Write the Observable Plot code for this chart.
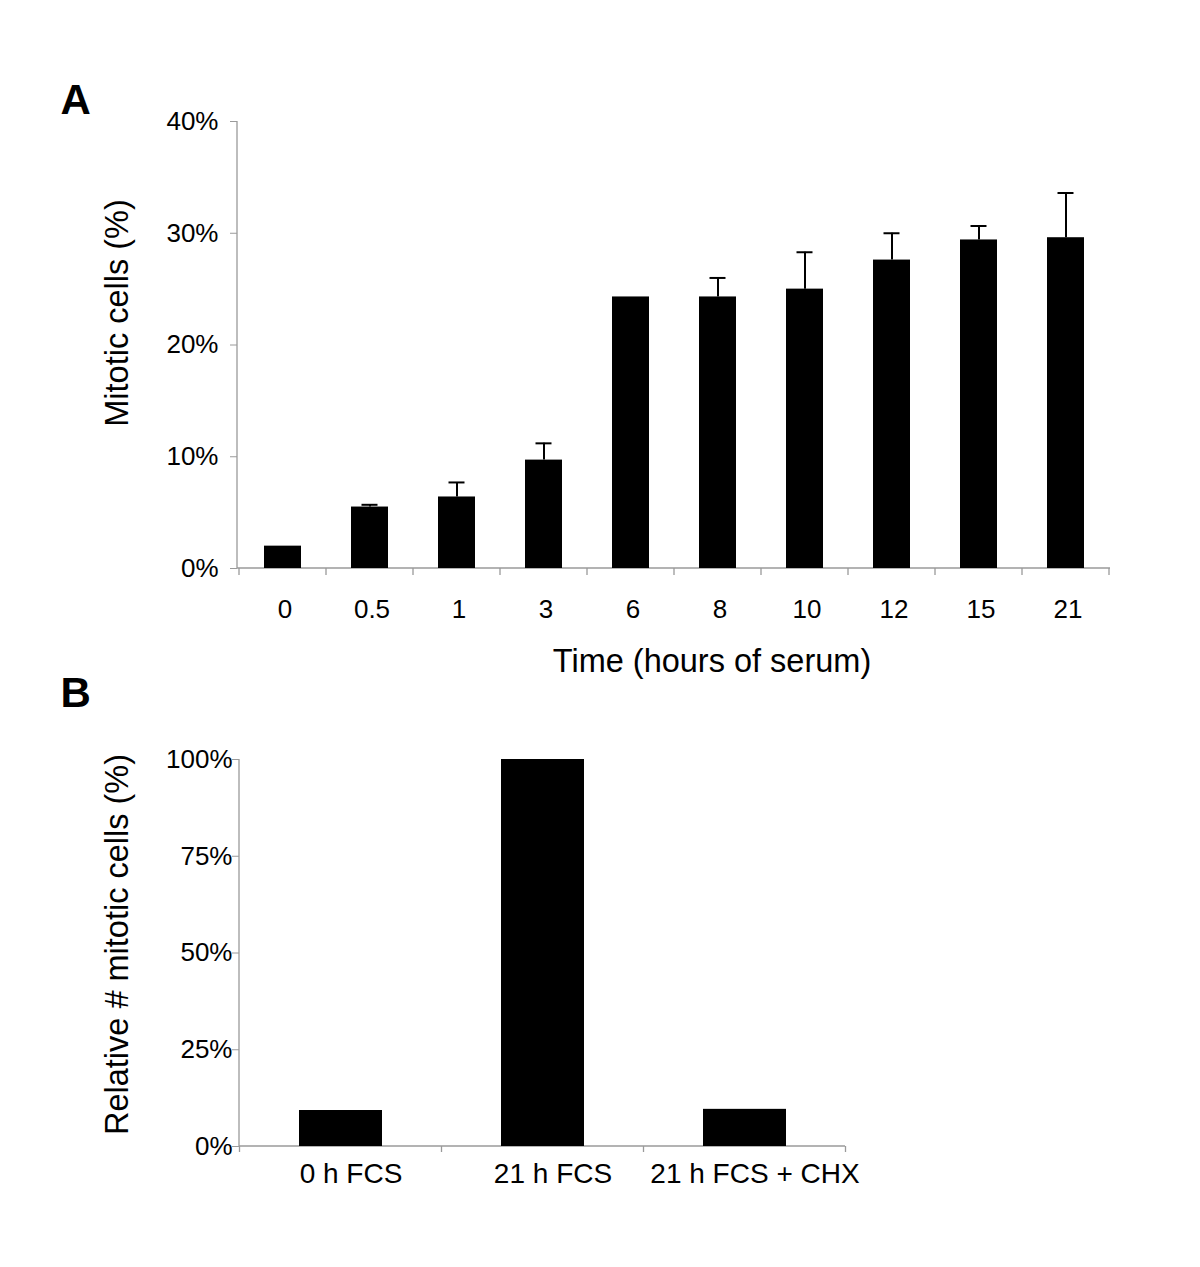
<!DOCTYPE html>
<html>
<head>
<meta charset="utf-8">
<script src="https://cdn.jsdelivr.net/npm/d3@7"></script>
<script src="https://cdn.jsdelivr.net/npm/@observablehq/plot@0.6"></script>
<style>
  html, body { margin: 0; padding: 0; background: white; }
  #chart { width: 1200px; }
  #chart svg { display: block; }
</style>
</head>
<body>
<div id="chart"></div>
<script>
// ---- Panel A data ----
const times = ["0", "0.5", "1", "3", "6", "8", "10", "12", "15", "21"];
const mitotic = [2.0, 5.5, 6.4, 9.7, 24.3, 24.3, 25.0, 27.6, 29.4, 29.6];
const mitoticErr = [null, 0.2, 1.3, 1.5, null, 1.7, 3.3, 2.4, 1.25, 4.0];
const ticksA = [0, 10, 20, 30, 40];

// ---- Panel B data ----
const conditions = ["0 h FCS", "21 h FCS", "21 h FCS + CHX"];
const relative = [9.3, 100, 9.6];
const ticksB = [0, 25, 50, 75, 100];

const dataA = times.map((t, i) => ({time: t, value: mitotic[i], err: mitoticErr[i]}));
const errA = dataA.filter(d => d.err != null).map(d => ({...d, top: d.value + d.err}));
const dataB = conditions.map((c, i) => ({cond: c, value: relative[i]}));

const FONT = "'Liberation Sans', Arial, Helvetica, sans-serif";
const AXIS = "#9a9a9a";
const NS = "http://www.w3.org/2000/svg";

// custom mark: axis lines plus category-boundary ticks
function axisFrame(tickLen) {
  return (index, scales, values, dims) => {
    const g = document.createElementNS(NS, "g");
    const add = (x1, y1, x2, y2) => {
      const l = document.createElementNS(NS, "line");
      l.setAttribute("x1", x1); l.setAttribute("y1", y1);
      l.setAttribute("x2", x2); l.setAttribute("y2", y2);
      l.setAttribute("stroke", AXIS); l.setAttribute("stroke-width", 1.3);
      g.appendChild(l);
    };
    const x0 = dims.marginLeft, x1 = dims.width - dims.marginRight;
    const y0 = dims.marginTop, y1 = dims.height - dims.marginBottom;
    add(x0, y0, x0, y1);
    add(x0, y1, x1, y1);
    const x = scales.x;
    const step = x.step(), bw = x.bandwidth();
    const dom = x.domain();
    const bounds = dom.map(d => x(d) - (step - bw) / 2);
    bounds.push(x(dom[dom.length - 1]) + bw + (step - bw) / 2);
    bounds.forEach(b => add(b, y1, b, y1 + tickLen));
    return g;
  };
}

const plotA = Plot.plot({
  width: 1200,
  height: 680,
  marginLeft: 237,
  marginRight: 90,
  marginTop: 121,
  marginBottom: 112,
  style: {fontFamily: FONT, background: "white", color: "black", overflow: "visible"},
  x: {domain: times, paddingInner: 0.576, paddingOuter: 0.288, label: null},
  y: {domain: [0, 40], label: null},
  marks: [
    axisFrame(7),
    Plot.axisY({ticks: ticksA, tickFormat: d => d + "%", tickSize: 7, tickPadding: 12,
      fontSize: 26, stroke: AXIS, fill: "black", label: null}),
    Plot.axisX({tickSize: 0, tickPadding: 31, dx: 2, fontSize: 26, fill: "black", label: null}),
    Plot.barY(dataA, {x: "time", y: "value", fill: "black"}),
    Plot.ruleX(errA, {x: "time", y1: "value", y2: "top", stroke: "black", strokeWidth: 2}),
    Plot.tickY(errA, {x: "time", y: "top", stroke: "black", strokeWidth: 2, insetLeft: 10.5, insetRight: 10.5}),
    Plot.text(["Time (hours of serum)"], {frameAnchor: "bottom", dx: 38, dy: 103, lineAnchor: "bottom",
      textAnchor: "middle", fontSize: 32.5, fill: "black"}),
    Plot.text(["Mitotic cells (%)"], {frameAnchor: "left", dx: -110, dy: -32, rotate: -90, lineAnchor: "bottom",
      textAnchor: "middle", fontSize: 32.5, fill: "black"}),
    Plot.text(["A"], {frameAnchor: "top-left", dx: -177, dy: -8, textAnchor: "start", lineAnchor: "bottom",
      fontSize: 42, fontWeight: "bold", fill: "black"})
  ]
});

const plotB = Plot.plot({
  width: 1200,
  height: 587,
  marginLeft: 239,
  marginRight: 355,
  marginTop: 79,
  marginBottom: 121,
  style: {fontFamily: FONT, background: "white", color: "black", overflow: "visible"},
  x: {domain: conditions, paddingInner: 0.59, paddingOuter: 0.295, label: null},
  y: {domain: [0, 100], label: null},
  marks: [
    axisFrame(6),
    Plot.axisY({ticks: ticksB, tickFormat: d => d + "%", tickSize: 7, tickPadding: 0,
      fontSize: 26, stroke: AXIS, fill: "black", label: null}),
    Plot.axisX({tickSize: 0, tickPadding: 17, dx: 10, fontSize: 28, fill: "black", label: null}),
    Plot.barY(dataB, {x: "cond", y: "value", fill: "black"}),
    Plot.text(["Relative # mitotic cells (%)"], {frameAnchor: "left", dx: -112, dy: -8.5, rotate: -90, lineAnchor: "bottom",
      textAnchor: "middle", fontSize: 32.5, fill: "black"}),
    Plot.text(["B"], {frameAnchor: "top-left", dx: -179, dy: -53, textAnchor: "start", lineAnchor: "bottom",
      fontSize: 42, fontWeight: "bold", fill: "black"})
  ]
});

const chart = document.getElementById("chart");
chart.appendChild(plotA);
chart.appendChild(plotB);
</script>
</body>
</html>
